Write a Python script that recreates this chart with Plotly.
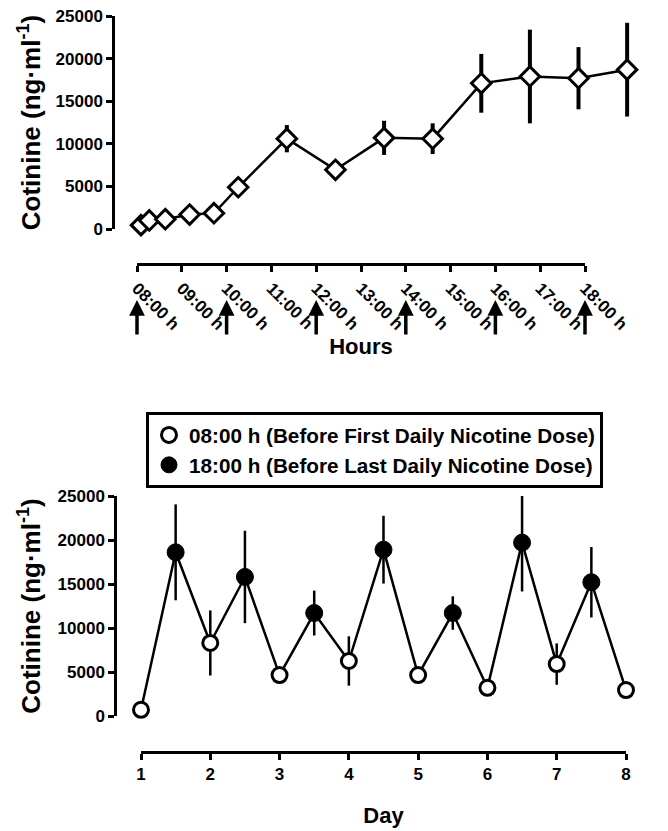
import plotly.graph_objects as go

# --- top panel: cotinine over one day ---
hours = [8.0, 8.17, 8.5, 9.0, 9.5, 10, 11, 12, 13, 14, 15, 16, 17, 18]
hour_cot = [450, 1000, 1150, 1700, 1850, 4900, 10600, 6950, 10700, 10600, 17100, 17900, 17700, 18700]
hour_err = [200, 300, 300, 400, 400, 500, 1600, 600, 2000, 1800, 3450, 5500, 3650, 5500]
hour_ticks = [8, 9, 10, 11, 12, 13, 14, 15, 16, 17, 18]
hour_labels = ["08:00 h", "09:00 h", "10:00 h", "11:00 h", "12:00 h", "13:00 h",
               "14:00 h", "15:00 h", "16:00 h", "17:00 h", "18:00 h"]
dose_hours = [8, 10, 12, 14, 16, 18]

# --- bottom panel: daily trough / peak ---
am_days = [1, 2, 3, 4, 5, 6, 7, 8]
am_cot = [700, 8300, 4650, 6250, 4650, 3200, 5900, 2950]
am_err = [0, 3700, 500, 2800, 500, 500, 2350, 500]
pm_days = [1.5, 2.5, 3.5, 4.5, 5.5, 6.5, 7.5]
pm_cot = [18600, 15800, 11700, 18900, 11700, 19700, 15200]
pm_err = [5450, 5250, 2550, 3850, 1900, 5550, 4000]
day_ticks = [1, 2, 3, 4, 5, 6, 7, 8]

# page body has an 8px margin, so the figure is placed 8px in from the corner
OFF = 8
W, H = 660, 823
FONT = "Liberation Sans, Arial, sans-serif"
ytitle = "Cotinine (ng·ml<sup>-1</sup>)"

def px_x(p):
    return (p - OFF) / W

def px_y(p):
    return 1 - (p - OFF) / H

# one line through all points in time order
pairs = sorted(list(zip(am_days, am_cot)) + list(zip(pm_days, pm_cot)))
all_days = [p[0] for p in pairs]
all_cot = [p[1] for p in pairs]

fig = go.Figure()

fig.add_trace(go.Scatter(
    x=hours, y=hour_cot, mode="lines+markers", xaxis="x", yaxis="y",
    line=dict(color="black", width=2.5),
    marker=dict(symbol="diamond", size=15, color="white", line=dict(color="black", width=3)),
    error_y=dict(type="data", array=hour_err, width=0, thickness=4, color="black"),
    cliponaxis=False, showlegend=False, hoverinfo="skip"))

# carrier for the labelled hour axis
fig.add_trace(go.Scatter(x=hour_ticks, y=[None] * len(hour_ticks), xaxis="x2", yaxis="y",
                         mode="markers", showlegend=False, hoverinfo="skip"))

fig.add_trace(go.Scatter(
    x=all_days, y=all_cot, mode="lines", xaxis="x3", yaxis="y3",
    line=dict(color="black", width=2.5), cliponaxis=False,
    showlegend=False, hoverinfo="skip"))

fig.add_trace(go.Scatter(
    x=am_days, y=am_cot, mode="markers", xaxis="x3", yaxis="y3",
    name="08:00 h (Before First Daily Nicotine Dose)",
    marker=dict(symbol="circle", size=15, color="white", line=dict(color="black", width=3)),
    error_y=dict(type="data", array=am_err, width=0, thickness=2.5, color="black"),
    cliponaxis=False))

fig.add_trace(go.Scatter(
    x=pm_days, y=pm_cot, mode="markers", xaxis="x3", yaxis="y3",
    name="18:00 h (Before Last Daily Nicotine Dose)",
    marker=dict(symbol="circle", size=17, color="black", line=dict(color="black", width=1)),
    error_y=dict(type="data", array=pm_err, width=0, thickness=2.5, color="black"),
    cliponaxis=False))

axis_style = dict(showline=True, linecolor="black", linewidth=2.5, ticks="outside",
                  ticklen=6, tickwidth=2.5, tickcolor="black", showgrid=False,
                  zeroline=False, automargin=False, ticklabeloverflow="allow")
tick_font = dict(family=FONT, size=17, color="black", weight="bold")
title_font = dict(family=FONT, size=26, color="black", weight="bold")
cot_ticks = [0, 5000, 10000, 15000, 20000, 25000]

fig.update_layout(
    width=W, height=H, margin=dict(l=0, r=0, t=0, b=0),
    paper_bgcolor="white", plot_bgcolor="rgba(0,0,0,0)",
    font=dict(family=FONT, color="black", weight="bold"),
    xaxis=dict(domain=[px_x(115), px_x(640)], range=[7.465, 18.265], visible=False,
               anchor="y"),
    yaxis=dict(domain=[px_y(229), px_y(16)], range=[0, 25000], anchor="x",
               tickvals=cot_ticks, tickformat="d", tickfont=tick_font,
               title=dict(text=ytitle, font=title_font, standoff=8), **axis_style),
    xaxis2=dict(domain=[px_x(137), px_x(585)], range=[8, 18], anchor="free",
                position=px_y(264), tickvals=hour_ticks, ticktext=hour_labels,
                tickangle=45, tickfont=tick_font,
                title=dict(text="Hours", font=dict(family=FONT, size=22, color="black",
                                                   weight="bold"), standoff=0),
                **axis_style),
    xaxis3=dict(domain=[px_x(141), px_x(626)], range=[1, 8], anchor="free",
                position=px_y(752), tickvals=day_ticks, tickfont=tick_font,
                title=dict(text="Day", font=dict(family=FONT, size=22, color="black",
                                                 weight="bold"), standoff=24),
                **axis_style),
    yaxis3=dict(domain=[px_y(716), px_y(496)], range=[0, 25000], anchor="free",
                position=px_x(115), tickvals=cot_ticks, tickformat="d",
                tickfont=tick_font,
                title=dict(text=ytitle, font=title_font, standoff=8), **axis_style),
    legend=dict(x=px_x(146), y=px_y(412), xanchor="left", yanchor="top",
                bordercolor="black", borderwidth=3, bgcolor="white",
                font=dict(family=FONT, size=20.7, color="black", weight="bold")),
)

# dose arrows under the hour axis
for h in dose_hours:
    fig.add_annotation(x=h, y=px_y(300), xref="x2", yref="paper", text="",
                       showarrow=True, ax=0, ay=36, arrowhead=2, arrowsize=0.9,
                       arrowwidth=3.5, arrowcolor="black")

fig.write_html("out.html")
